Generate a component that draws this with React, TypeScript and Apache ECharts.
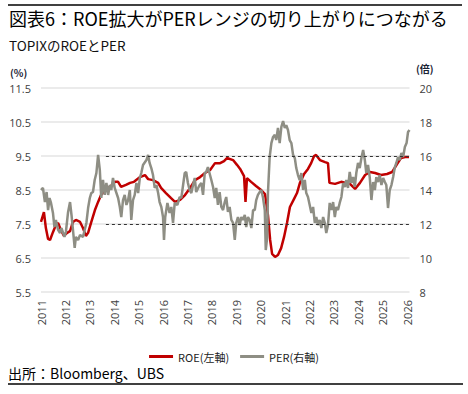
import React, { useEffect, useRef } from "react";
import * as echarts from "echarts";

// ROE (left axis, %) — year fraction / value
const roeX = [
  2011.0, 2011.12, 2011.2, 2011.29, 2011.37, 2011.49, 2011.61, 2011.7, 2011.82, 2011.94,
  2012.07, 2012.19, 2012.31, 2012.43, 2012.6, 2012.72, 2012.84, 2012.93, 2013.05, 2013.21,
  2013.34, 2013.46, 2013.62, 2013.83, 2014.03, 2014.16, 2014.28, 2014.48, 2014.65, 2014.81,
  2015.06, 2015.26, 2015.39, 2015.59, 2015.8, 2015.92, 2016.12, 2016.33, 2016.49, 2016.7,
  2016.9, 2017.11, 2017.31, 2017.52, 2017.72, 2017.93, 2018.13, 2018.34, 2018.5, 2018.62,
  2018.87, 2019.03, 2019.16, 2019.32, 2019.38, 2019.44, 2019.61, 2019.81, 2020.02, 2020.18,
  2020.3, 2020.39, 2020.47, 2020.59, 2020.71, 2020.84, 2020.96, 2021.08, 2021.2, 2021.37,
  2021.49, 2021.61, 2021.78, 2021.94, 2022.07, 2022.19, 2022.27, 2022.43, 2022.64, 2022.76,
  2022.82, 2023.05, 2023.3, 2023.5, 2023.66, 2023.87, 2024.07, 2024.28, 2024.48, 2024.69,
  2024.93, 2025.18, 2025.39, 2025.59, 2025.75, 2025.92, 2026.08,
];
const roeY = [
  7.56, 7.85, 7.38, 7.06, 7.03, 7.26, 7.47, 7.53, 7.32, 7.15,
  7.24, 7.29, 7.56, 7.62, 7.56, 7.38, 7.15, 7.24, 7.53, 7.91,
  8.15, 8.35, 8.5, 8.59, 8.74, 8.74, 8.59, 8.65, 8.71, 8.74,
  8.88, 8.94, 8.82, 8.79, 8.71, 8.56, 8.41, 8.26, 8.15, 8.21,
  8.35, 8.56, 8.79, 8.88, 9.0, 9.09, 9.29, 9.29, 9.35, 9.44,
  9.38, 9.24, 9.12, 8.91, 8.15, 8.85, 8.74, 8.62, 8.5, 8.38,
  7.76, 7.03, 6.62, 6.53, 6.59, 6.79, 7.12, 7.53, 8.0, 8.24,
  8.41, 8.71, 8.97, 9.12, 9.29, 9.5, 9.53, 9.38, 9.32, 9.29,
  8.71, 8.68, 8.74, 8.71, 8.68, 8.53, 8.71, 8.94, 9.03, 9.0,
  8.94, 8.97, 9.03, 9.26, 9.44, 9.47, 9.47,
];

// PER (right axis, times)
const perX = [
  2011.0, 2011.08, 2011.16, 2011.23, 2011.29, 2011.35, 2011.41, 2011.49, 2011.55, 2011.61,
  2011.7, 2011.78, 2011.84, 2011.96, 2012.02, 2012.11, 2012.19, 2012.25, 2012.31, 2012.38,
  2012.43, 2012.52, 2012.6, 2012.72, 2012.79, 2012.86, 2012.93, 2013.0, 2013.06, 2013.13,
  2013.2, 2013.27, 2013.34, 2013.41, 2013.47, 2013.54, 2013.61, 2013.68, 2013.75, 2013.82,
  2013.88, 2013.95, 2014.02, 2014.16, 2014.23, 2014.29, 2014.36, 2014.43, 2014.5, 2014.57,
  2014.64, 2014.7, 2014.77, 2014.84, 2014.91, 2014.98, 2015.05, 2015.11, 2015.18, 2015.32,
  2015.39, 2015.45, 2015.52, 2015.59, 2015.66, 2015.73, 2015.8, 2015.86, 2015.93, 2016.0,
  2016.04, 2016.09, 2016.18, 2016.27, 2016.34, 2016.41, 2016.48, 2016.59, 2016.68, 2016.75,
  2016.89, 2016.95, 2017.02, 2017.09, 2017.16, 2017.23, 2017.3, 2017.36, 2017.5, 2017.57,
  2017.64, 2017.71, 2017.77, 2017.84, 2017.98, 2018.05, 2018.12, 2018.18, 2018.25, 2018.32,
  2018.39, 2018.46, 2018.53, 2018.59, 2018.66, 2018.73, 2018.8, 2018.87, 2018.94, 2019.0,
  2019.07, 2019.14, 2019.21, 2019.28, 2019.35, 2019.41, 2019.48, 2019.55, 2019.62, 2019.69,
  2019.76, 2019.82, 2019.89, 2019.96, 2020.03, 2020.1, 2020.17, 2020.21, 2020.27, 2020.3,
  2020.37, 2020.44, 2020.51, 2020.58, 2020.64, 2020.71, 2020.78, 2020.85, 2020.92, 2020.99,
  2021.05, 2021.12, 2021.19, 2021.26, 2021.33, 2021.4, 2021.46, 2021.53, 2021.6, 2021.67,
  2021.74, 2021.81, 2021.87, 2021.94, 2022.08, 2022.15, 2022.22, 2022.28, 2022.35, 2022.42,
  2022.49, 2022.56, 2022.63, 2022.69, 2022.76, 2022.83, 2022.9, 2022.97, 2023.04, 2023.1,
  2023.17, 2023.24, 2023.31, 2023.38, 2023.45, 2023.51, 2023.58, 2023.65, 2023.72, 2023.79,
  2023.86, 2023.92, 2023.99, 2024.06, 2024.13, 2024.2, 2024.27, 2024.33, 2024.4, 2024.47,
  2024.54, 2024.61, 2024.68, 2024.74, 2024.81, 2024.88, 2024.95, 2025.02, 2025.09, 2025.15,
  2025.22, 2025.29, 2025.36, 2025.43, 2025.5, 2025.56, 2025.63, 2025.7, 2025.77, 2025.84,
  2025.91, 2025.98, 2026.04, 2026.1,
];
const perY = [
  14.0, 14.12, 13.29, 13.88, 12.82, 13.53, 13.24, 12.65, 11.82, 12.24,
  11.65, 11.47, 11.76, 11.24, 11.53, 12.71, 13.29, 12.53, 11.65, 10.59,
  11.24, 11.06, 11.35, 11.24, 11.65, 12.06, 12.94, 13.53, 13.82, 13.88,
  14.59, 15.0, 16.06, 15.18, 13.53, 14.59, 13.71, 14.41, 13.71, 14.29,
  14.0, 14.71, 14.12, 13.53, 13.0, 12.41, 13.41, 13.71, 13.12, 13.41,
  14.0, 12.24, 13.41, 13.71, 14.41, 13.82, 14.71, 15.0, 15.47, 15.76,
  16.06, 15.59, 15.29, 14.88, 14.12, 14.29, 13.82, 13.29, 13.0, 12.41,
  11.06, 12.41, 13.24, 12.65, 13.0, 12.06, 13.24, 13.12, 13.59, 13.53,
  15.0, 15.06, 14.41, 14.0, 13.82, 14.29, 14.71, 13.88, 14.29, 14.41,
  13.71, 15.0, 15.06, 15.35, 14.59, 14.18, 13.53, 14.12, 13.12, 13.88,
  13.0, 12.82, 13.29, 13.59, 12.71, 13.0, 12.24, 12.06, 11.06, 12.06,
  12.41, 11.94, 12.41, 12.24, 12.53, 11.82, 12.41, 12.24, 11.76, 12.82,
  12.82, 13.41, 13.71, 13.88, 14.0, 13.53, 12.82, 10.47, 11.24, 13.82,
  15.94, 16.76, 17.12, 17.24, 16.94, 17.65, 16.76, 17.71, 18.06, 17.65,
  17.82, 17.53, 16.94, 16.76, 16.06, 15.88, 15.29, 14.88, 14.59, 15.0,
  14.0, 14.59, 13.82, 13.59, 12.65, 13.0, 12.06, 12.41, 11.94, 12.24,
  11.76, 12.41, 12.06, 11.47, 11.94, 13.24, 12.82, 13.29, 12.41, 13.0,
  12.82, 13.24, 13.59, 14.41, 14.18, 14.59, 14.12, 15.06, 14.41, 14.76,
  14.18, 15.0, 15.59, 15.29, 15.88, 16.35, 15.76, 15.0, 15.47, 14.76,
  13.41, 14.47, 14.0, 14.76, 14.47, 14.88, 14.29, 14.71, 14.47, 14.29,
  12.94, 14.0, 14.29, 14.76, 15.35, 15.59, 15.94, 15.76, 16.18, 15.94,
  16.53, 16.76, 17.41, 17.53,
];

// PER range reference lines (right axis)
const perRangeLevels = [16, 12];
const perRangeStart = 2013.66;

const xMin = 2011;
const xMax = 2026.1;

const titleText = "図表6：ROE拡大がPERレンジの切り上がりにつながる";
const subtitleText = "TOPIXのROEとPER";
const sourceText = "出所：Bloomberg、UBS";
const roeName = "ROE(左軸)";
const perName = "PER(右軸)";

const W = 468;
const H = 394;
const NUM_FONT = "'Open Sans', 'Noto Sans CJK JP', sans-serif";
const JP_FONT = "'Noto Sans CJK JP', 'Open Sans', sans-serif";

export default function App() {
  const ref = useRef<HTMLDivElement>(null);

  useEffect(() => {
    if (!ref.current) return;
    const chart = echarts.init(ref.current, null, { renderer: "svg", width: W, height: H });

    const roeData = roeX.map((x, i) => [x, roeY[i]]);
    const perData = perX.map((x, i) => [x, perY[i]]);

    const option: any = {
      animation: false,
      backgroundColor: "#ffffff",
      grid: { left: 41, right: 58.5, top: 88, bottom: 102 },
      legend: {
        left: "center",
        top: 346,
        icon: "rect",
        itemWidth: 24,
        itemHeight: 3,
        itemGap: 11,
        textStyle: { fontSize: 11, color: "#222", fontFamily: JP_FONT },
        data: [roeName, perName],
      },
      xAxis: {
        type: "value",
        min: xMin,
        max: xMax,
        interval: 1,
        axisLine: { show: false },
        axisTick: { show: false },
        splitLine: { show: false },
        axisLabel: {
          rotate: 90,
          margin: 8,
          fontSize: 11,
          color: "#404040",
          fontFamily: NUM_FONT,
          formatter: (v: number) => (Math.abs(v - Math.round(v)) < 1e-6 ? String(Math.round(v)) : ""),
        },
      },
      yAxis: [
        {
          type: "value",
          min: 5.5,
          max: 11.5,
          interval: 1,
          axisLine: { show: false },
          axisTick: { show: false },
          axisLabel: {
            margin: 10,
            fontSize: 11,
            color: "#404040",
            fontFamily: NUM_FONT,
            formatter: (v: number) => v.toFixed(1),
          },
          splitLine: { lineStyle: { color: "#e4e4e4", width: 1.5 } },
        },
        {
          type: "value",
          min: 8,
          max: 20,
          interval: 2,
          position: "right",
          axisLine: { show: false },
          axisTick: { show: false },
          axisLabel: {
            margin: 10,
            fontSize: 11,
            color: "#404040",
            fontFamily: NUM_FONT,
          },
          splitLine: { show: false },
        },
      ],
      series: [
        {
          name: roeName,
          type: "line",
          yAxisIndex: 0,
          data: roeData,
          showSymbol: false,
          symbol: "none",
          lineStyle: { color: "#C00000", width: 2.5 },
          itemStyle: { color: "#C00000" },
          z: 3,
        },
        {
          name: perName,
          type: "line",
          yAxisIndex: 1,
          data: perData,
          showSymbol: false,
          symbol: "none",
          lineStyle: { color: "#8E8E84", width: 2.5 },
          itemStyle: { color: "#8E8E84" },
          z: 4,
          markLine: {
            silent: true,
            symbol: ["none", "none"],
            label: { show: false },
            lineStyle: { color: "#333", width: 1, type: [3, 3] },
            data: perRangeLevels.map((lv) => [
              { coord: [perRangeStart, lv] },
              { coord: [xMax, lv] },
            ]),
          },
        },
      ],
      graphic: [
        { type: "line", shape: { x1: 8, y1: 5, x2: 462, y2: 5 }, style: { stroke: "#000", lineWidth: 1.5 } },
        {
          type: "text",
          x: 9,
          y: 18,
          style: { text: titleText, fontSize: 18, fontFamily: JP_FONT, fill: "#000", verticalAlign: "middle" },
        },
        {
          type: "text",
          x: 9,
          y: 45,
          style: { text: subtitleText, fontSize: 13.5, fontFamily: JP_FONT, fill: "#111", verticalAlign: "middle" },
        },
        {
          type: "text",
          x: 10,
          y: 72,
          style: { text: "(%)", fontSize: 10, fontWeight: "bold", fontFamily: JP_FONT, fill: "#1a2233", verticalAlign: "middle" },
        },
        {
          type: "text",
          x: 416,
          y: 68,
          style: { text: "(倍)", fontSize: 10, fontWeight: "bold", fontFamily: JP_FONT, fill: "#1a2233", verticalAlign: "middle" },
        },
        {
          type: "text",
          x: 8,
          y: 373,
          style: { text: sourceText, fontSize: 14, fontFamily: JP_FONT, fill: "#000", verticalAlign: "middle" },
        },
        { type: "line", shape: { x1: 8, y1: 384, x2: 463, y2: 384 }, style: { stroke: "#000", lineWidth: 1.5 } },
      ],
    };

    chart.setOption(option);
    return () => chart.dispose();
  }, []);

  return (
    <div
      ref={ref}
      style={{ position: "fixed", left: 0, top: 0, width: W, height: H, background: "#fff" }}
    />
  );
}
